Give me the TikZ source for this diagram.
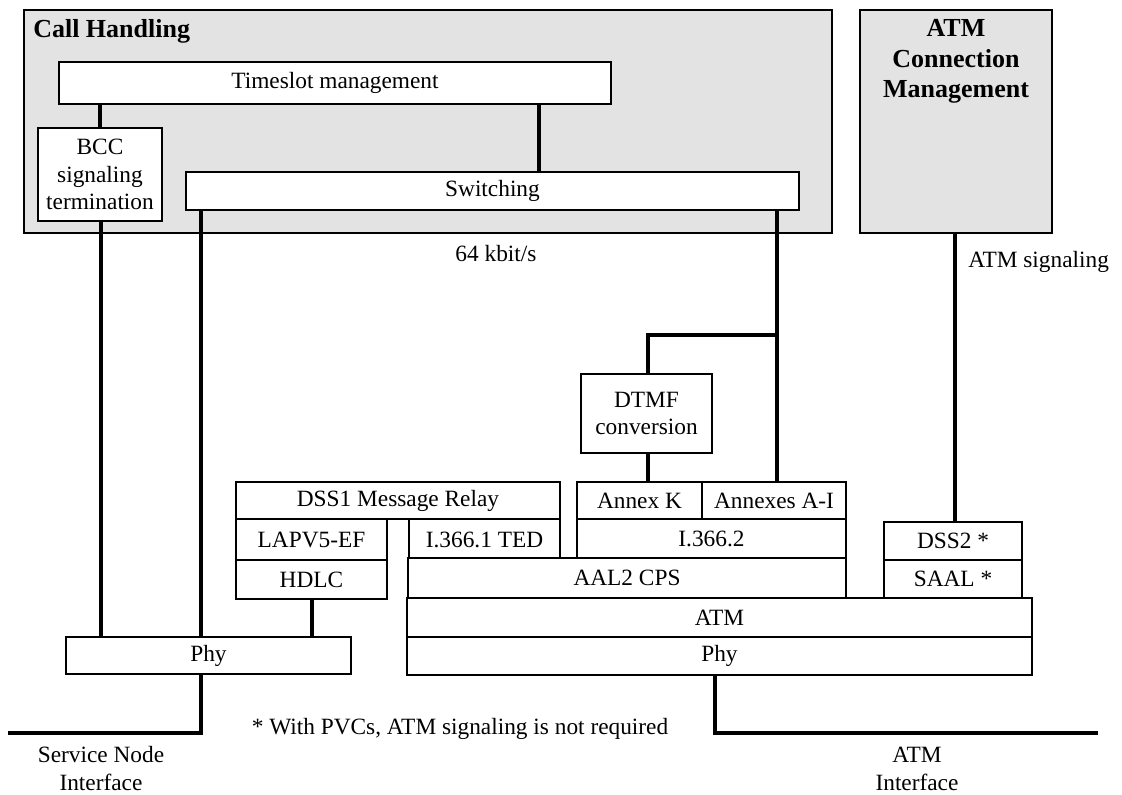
\documentclass[tikz,border=0pt]{standalone}
\usepackage{fontspec}
\setmainfont{Liberation Serif}

\tikzset{
  base/.style={font=\fontsize{17.5}{20.5}\selectfont},
  group/.style={draw, line width=1.3pt, fill=black!11, inner sep=0pt},
  layer/.style={base, draw, line width=1.1pt, fill=white, inner sep=0pt, align=center},
  conn/.style={line width=2.3pt},
  note/.style={base, align=center, inner sep=0pt},
  title/.style={font=\fontsize{19.5}{23}\selectfont\bfseries, align=center, inner sep=0pt}
}

% rectangular node given by its corners: name, x1, y1, x2, y2, style, text
\newcommand\blk[7]{%
  \node[#6, minimum width={(#4-#2)*0.75pt}, minimum height={(#5-#3)*0.75pt}]
    (#1) at ({(#2+#4)/2},{(#3+#5)/2}) {#7};}

\begin{document}
\begin{tikzpicture}[x=0.75pt, y=-0.75pt]
  \useasboundingbox (0,0) rectangle (1122,795);

  % functional groups
  \blk{ch}{24}{10}{832}{233}{group}{}
  \node[title, anchor=north west] (chlabel) at (33,19) {Call Handling};
  \blk{acm}{860}{10}{1052}{233}{group}{}
  \node[title, anchor=north] (acmlabel) at (956,19) {ATM\\Connection\\Management};

  % call handling blocks
  \blk{tsm}{59}{62}{611}{104}{layer}{Timeslot management}
  \blk{bcc}{38}{128}{162}{221}{layer}{BCC\\signaling\\termination}
  \blk{sw}{186}{172}{799}{210}{layer}{Switching}

  % service node side stack
  \blk{relay}{236}{482}{560}{519}{layer}{DSS1 Message Relay}
  \blk{lapv}{236}{519}{387}{560}{layer}{LAPV5-EF}
  \blk{hdlc}{236}{560}{387}{599}{layer}{HDLC}
  \blk{phyl}{66}{637}{351}{674}{layer}{Phy}

  % AAL2 / ATM side stack
  \blk{dtmf}{581}{374}{712}{453}{layer}{DTMF\\conversion}
  \blk{annk}{577}{482}{702}{519}{layer}{Annex K}
  \blk{annai}{702}{482}{846}{519}{layer}{Annexes A-I}
  \blk{ted}{409}{519}{560}{560}{layer}{I.366.1 TED}
  \blk{i3662}{577}{519}{846}{558}{layer}{I.366.2}
  \blk{cps}{408}{558}{846}{598}{layer}{AAL2 CPS}
  \blk{dss2}{884}{522}{1022}{560}{layer}{DSS2 *}
  \blk{saal}{884}{560}{1022}{598}{layer}{SAAL *}
  \blk{atm}{407}{598}{1032}{637}{layer}{ATM}
  \blk{phyr}{407}{637}{1032}{675}{layer}{Phy}

  % connections
  \draw[conn] (bcc.north) -- (bcc.north |- tsm.south);
  \draw[conn] (tsm.south -| 539,0) -- (sw.north -| 539,0);
  \draw[conn] (bcc.south -| 101,0) -- (phyl.north -| 101,0);
  \draw[conn] (sw.south -| 201,0) -- (phyl.north -| 201,0);
  \coordinate (split) at (777,335);
  \draw[conn] (sw.south -| split) -- (annai.north -| split);
  \draw[conn] (split) -| (dtmf.north -| 648,0);
  \draw[conn] (dtmf.south -| 648,0) -- (annk.north -| 648,0);
  \draw[conn] (hdlc.south -| 312,0) -- (phyl.north -| 312,0);
  \draw[conn] (acm.south -| 955,0) -- (dss2.north -| 955,0);

  % external interfaces
  \coordinate (snlend) at (8,733);
  \coordinate (atmend) at (1098,733);
  \draw[conn] (phyl.south -| 201,0) |- (snlend);
  \draw[conn] (phyr.south -| 715,0) |- (atmend);

  % labels
  \node[note] (rate) at (496,254) {64 kbit/s};
  \node[note, anchor=west] (atmsig) at (968,262) {ATM signaling};
  \node[note] (foot) at (460,729) {* With PVCs, ATM signaling is not required};
  \node[note, font=\fontsize{17.5}{21}\selectfont] (sni) at (101,769) {Service Node\\Interface};
  \node[note, font=\fontsize{17.5}{21}\selectfont] (atmi) at (917,769) {ATM\\Interface};
\end{tikzpicture}
\end{document}
